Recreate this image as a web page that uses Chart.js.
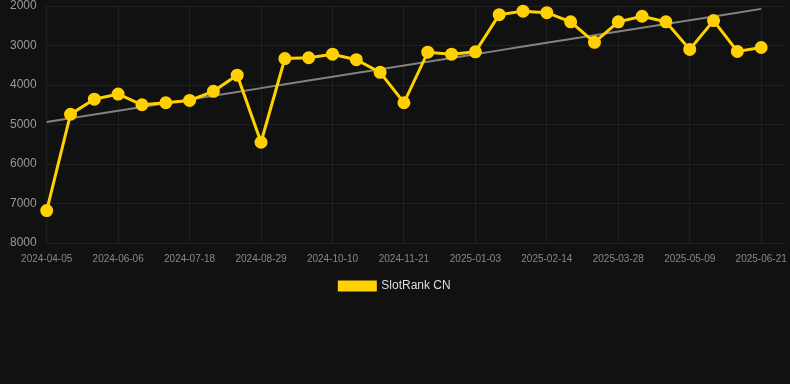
<!DOCTYPE html>
<html>
<head>
<meta charset="utf-8">
<script src="https://cdn.jsdelivr.net/npm/chart.js@4"></script>
<style>
  html, body { margin: 0; padding: 0; background: #111111; }
  #wrap { width: 790px; height: 302px; position: relative; }
</style>
</head>
<body>
<div id="wrap"><canvas id="myChart"></canvas></div>
<script>
// dates (every 3rd one is shown on the axis), last one has no value
var labels = ['2024-04-05', '2024-04-26', '2024-05-23', '2024-06-06', '2024-06-20', '2024-07-04',
  '2024-07-18', '2024-08-01', '2024-08-15', '2024-08-29', '2024-09-12', '2024-09-26',
  '2024-10-10', '2024-10-24', '2024-11-07', '2024-11-21', '2024-12-05', '2024-12-19',
  '2025-01-03', '2025-01-17', '2025-01-31', '2025-02-14', '2025-02-28', '2025-03-14',
  '2025-03-28', '2025-04-11', '2025-04-25', '2025-05-09', '2025-05-23', '2025-06-06',
  '2025-06-21', '2025-07-05'];

var rankCN = [7180, 4740, 4360, 4230, 4500, 4450, 4390, 4160, 3750, 5450,
  3330, 3310, 3220, 3360, 3680, 4450, 3170, 3220, 3160, 2220,
  2130, 2170, 2400, 2920, 2400, 2260, 2400, 3100, 2370, 3150, 3050];

var yTicks = [2000, 3000, 4000, 5000, 6000, 7000, 8000];

// least squares trend over the points
var n = rankCN.length, sx = 0, sy = 0, sxy = 0, sxx = 0;
for (var i = 0; i < n; i++) {
  sx += i; sy += rankCN[i]; sxy += i * rankCN[i]; sxx += i * i;
}
var slope = (n * sxy - sx * sy) / (n * sxx - sx * sx);
var icpt = (sy - slope * sx) / n;
var trend = rankCN.map(function (v, i) { return icpt + slope * i; });

var gridCol = 'rgba(255,255,255,0.06)';

var ctx = document.getElementById('myChart').getContext('2d');
var myChart = new Chart(ctx, {
  type: 'line',
  data: {
    labels: labels,
    datasets: [{
      label: 'SlotRank CN',
      data: rankCN,
      borderColor: '#FFD100',
      backgroundColor: '#FFD100',
      borderWidth: 3,
      pointRadius: 5,
      pointHoverRadius: 5,
      tension: 0,
      clip: false,
      order: 1
    }, {
      label: 'trend',
      data: trend,
      borderColor: 'rgba(150,150,150,0.85)',
      borderWidth: 2,
      pointRadius: 0,
      fill: false,
      clip: false,
      order: 2
    }]
  },
  options: {
    responsive: true,
    maintainAspectRatio: false,
    animation: false,
    layout: { autoPadding: false, padding: 0 },
    plugins: {
      legend: {
        position: 'bottom',
        labels: {
          color: '#dddddd',
          font: { family: 'Liberation Sans, Arial', size: 12 },
          boxWidth: 36,
          boxHeight: 8,
          padding: 5,
          filter: function (item) { return item.text !== 'trend'; }
        }
      },
      tooltip: { enabled: false }
    },
    scales: {
      x: {
        offset: false,
        grid: { color: gridCol, drawTicks: false },
        border: { display: false },
        afterFit: function (scale) { scale.paddingRight = 5; },
        ticks: {
          autoSkip: false,
          maxRotation: 0,
          padding: 10,
          color: '#888888',
          font: { family: 'Liberation Sans, Arial', size: 10 },
          callback: function (val, idx) { return idx % 3 === 0 ? labels[idx] : null; }
        }
      },
      y: {
        reverse: true,
        min: 2000,
        max: 8000,
        afterBuildTicks: function (axis) {
          axis.ticks = yTicks.map(function (v) { return { value: v }; });
        },
        afterFit: function (scale) { scale.paddingTop = 6; scale.paddingBottom = 6; },
        grid: { color: gridCol, drawTicks: false },
        border: { display: false },
        ticks: {
          padding: 10,
          color: '#999999',
          font: { family: 'Liberation Sans, Arial', size: 12 },
          callback: function (v) { return String(v); }
        }
      }
    }
  }
});
</script>
</body>
</html>
